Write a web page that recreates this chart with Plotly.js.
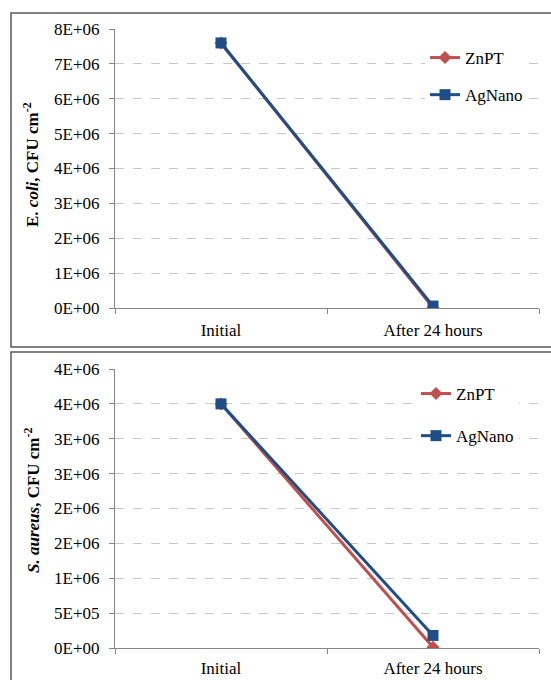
<!DOCTYPE html>
<html><head><meta charset="utf-8">
<script src="https://cdn.plot.ly/plotly-3.0.1.min.js"></script>
<style>html,body{margin:0;padding:0;background:#fff}#chart{width:551px;height:680px}</style>
</head><body><div id="chart"></div>
<script>
const categories = ["Initial", "After 24 hours"];
const ecoliZnPT = [7600000, 10000];
const ecoliAgNano = [7600000, 55000];
const saureusZnPT = [3500000, 10000];
const saureusAgNano = [3500000, 180000];
const ecoliTickVals = [0, 1e6, 2e6, 3e6, 4e6, 5e6, 6e6, 7e6, 8e6];
const ecoliTickText = ["0E+00","1E+06","2E+06","3E+06","4E+06","5E+06","6E+06","7E+06","8E+06"];
const saureusTickVals = [0, 5e5, 1e6, 1.5e6, 2e6, 2.5e6, 3e6, 3.5e6, 4e6];
const saureusTickText = ["0E+00","5E+05","1E+06","2E+06","2E+06","3E+06","3E+06","4E+06","4E+06"];

const W = 551, H = 680;
const px = v => v / W, py = v => 1 - v / H;
const red = "#C0504D", blue = "#1F4E86";
const FAM = "Liberation Serif";
const mkFont = () => ({family: FAM, size: 17, color: "#000000"});

function tr(y, name, color, sym, xa, ya, leg, size) {
  return {x: categories, y: y, name: name, type: "scatter", mode: "lines+markers",
    line: {color: color, width: 3}, marker: {color: color, symbol: sym, size: size},
    xaxis: xa, yaxis: ya, legend: leg, legendgroup: leg + name};
}
const data = [
  tr(ecoliZnPT, "ZnPT", red, "diamond", "x", "y", "legend", 10),
  tr(ecoliAgNano, "AgNano", blue, "square", "x", "y", "legend", 11),
  tr(saureusZnPT, "ZnPT", red, "diamond", "x2", "y2", "legend2", 10),
  tr(saureusAgNano, "AgNano", blue, "square", "x2", "y2", "legend2", 11)
];
function xax(anchor, standoff) {
  return {type: "category", tickson: "boundaries", ticks: "outside", ticklen: 5,
    tickcolor: "#868686", showline: true, linecolor: "#868686", linewidth: 1, showgrid: false,
    tickfont: mkFont(), ticklabelstandoff: standoff, fixedrange: true,
    domain: [px(115), px(539)], anchor: anchor, range: [-0.5, 1.5]};
}
function yax(anchor, d0, d1, maxv, vals, text) {
  return {ticks: "outside", ticklen: 5, tickcolor: "#868686", showline: true,
    linecolor: "#868686", linewidth: 1, showgrid: true, gridcolor: "#C8C8C8", griddash: "dash",
    gridwidth: 1, zeroline: false, tickfont: mkFont(), ticklabelstandoff: 6, fixedrange: true,
    domain: [d0, d1], anchor: anchor, range: [0, maxv], tickmode: "array", tickvals: vals, ticktext: text};
}
function leg(x, y, gap) {
  return {bgcolor: "#ffffff", font: mkFont(), xanchor: "left", yanchor: "top",
    itemwidth: 30, x: x, y: y, tracegroupgap: gap};
}
const layout = {
  width: W, height: H, margin: {l: 0, r: 0, t: 0, b: 0}, paper_bgcolor: "#fff", plot_bgcolor: "#fff",
  showlegend: true, font: mkFont(),
  xaxis: xax("y", 7),
  yaxis: yax("x", py(308), py(29), 8e6, ecoliTickVals, ecoliTickText),
  xaxis2: xax("y2", 5),
  yaxis2: yax("x2", py(648), py(369), 4e6, saureusTickVals, saureusTickText),
  legend: leg(px(425), py(40), 12),
  legend2: leg(px(416), py(376), 17),
  annotations: [
    {text: "<b>E. <i>coli</i>, CFU cm<sup>-2</sup></b>", xref: "paper", yref: "paper",
      x: px(31), y: py(165), textangle: -90, showarrow: false, font: mkFont(), xanchor: "center", yanchor: "middle"},
    {text: "<b><i>S. aureus</i>, CFU cm<sup>-2</sup></b>", xref: "paper", yref: "paper",
      x: px(32), y: py(500), textangle: -90, showarrow: false, font: mkFont(), xanchor: "center", yanchor: "middle"}
  ],
  shapes: [
    {type: "rect", xref: "paper", yref: "paper", x0: px(11), x1: px(560), y0: py(347), y1: py(13),
      line: {color: "#595959", width: 1.5}},
    {type: "rect", xref: "paper", yref: "paper", x0: px(11), x1: px(560), y0: py(700), y1: py(352),
      line: {color: "#595959", width: 1.5}}
  ]
};
Plotly.newPlot("chart", data, layout, {staticPlot: true, displayModeBar: false});
</script></body></html>
